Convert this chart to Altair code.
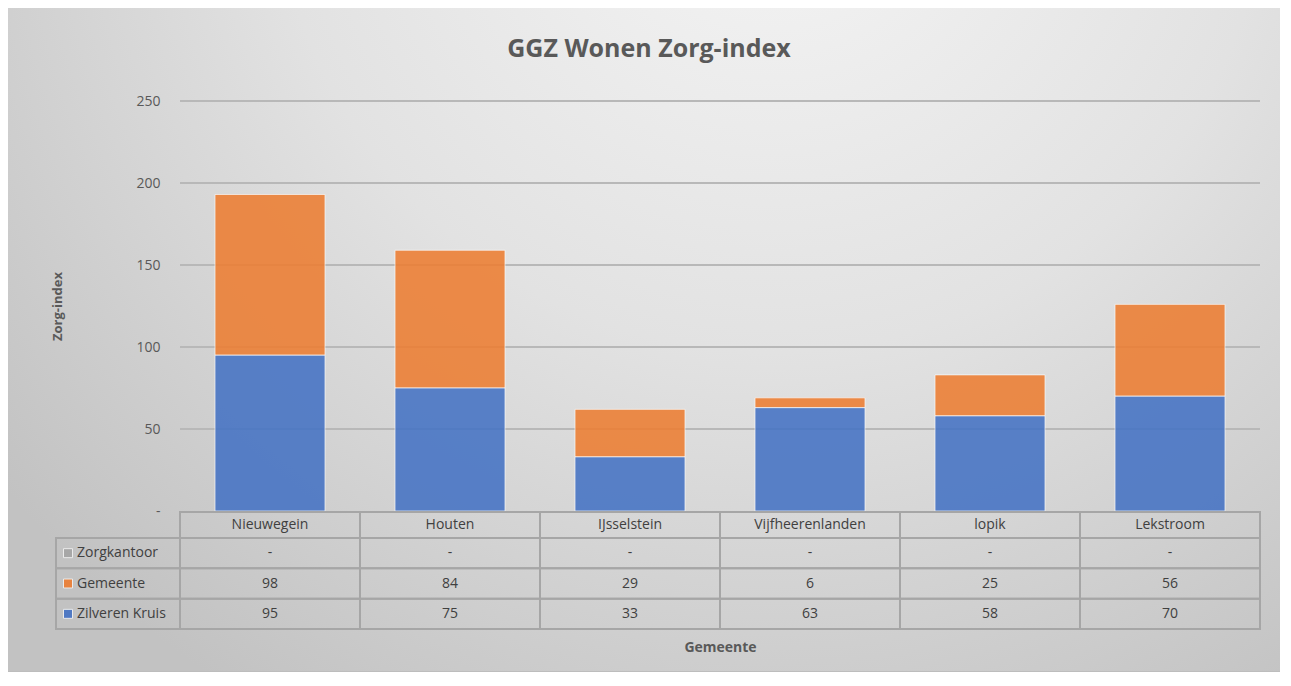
import altair as alt
import pandas as pd

# ---- data ----
gemeenten = ["Nieuwegein", "Houten", "IJsselstein", "Vijfheerenlanden", "lopik", "Lekstroom"]
zorgkantoor = [0, 0, 0, 0, 0, 0]
gemeente = [98, 84, 29, 6, 25, 56]
zilveren_kruis = [95, 75, 33, 63, 58, 70]
series = ["Zorgkantoor", "Gemeente", "Zilveren Kruis"]
series_colors = ["#A5A5A5", "#ED7D31", "#4472C4"]
stack_order = [2, 1, 0]
y_ticks = [0, 50, 100, 150, 200, 250]
chart_title = "GGZ Wonen Zorg-index"

rows = []
for s, o, vals in zip(series, stack_order, [zorgkantoor, gemeente, zilveren_kruis]):
    for g, v in zip(gemeenten, vals):
        rows.append({"Gemeente": g, "Reeks": s, "Waarde": v, "volgorde": o})
df = pd.DataFrame(rows)

FONT = "Open Sans"
TXT = "#404040"
LAB = "#595959"
BORDER = "#a6a6a6"

x_scale = alt.Scale(domain=gemeenten, paddingInner=0, paddingOuter=0)
y_scale = alt.Scale(domain=[0, 250], nice=False)
color_scale = alt.Scale(domain=series, range=series_colors)
row_scale = alt.Scale(type="band", domain=series, range=[437, 528], paddingInner=0, paddingOuter=0)

x_axis = alt.Axis(title="Gemeente", labelFont=FONT, labelFontSize=14, labelColor=TXT,
                  labelAngle=0, domain=False, ticks=False, grid=False, labelPadding=6,
                  titleFont=FONT, titleFontSize=14, titleFontWeight="bold", titleColor=LAB,
                  titleY=136, titleBaseline="middle", zindex=2)
y_axis = alt.Axis(title="Zorg-index", values=y_ticks,
                  labelExpr="datum.value == 0 ? '-      ' : datum.label",
                  domain=False, ticks=False, grid=False, labelPadding=20,
                  labelFont=FONT, labelFontSize=14, labelColor=LAB,
                  titleFont=FONT, titleFontSize=13, titleFontWeight="bold", titleColor=LAB,
                  titleX=-123, titleY=205, titleAngle=270, titleAlign="center",
                  titleBaseline="middle", zindex=2)

one = pd.DataFrame({"titel": [chart_title]})

bg_fill = {
    "gradient": "radial",
    "x1": 0.6, "y1": 0.12, "r1": 0,
    "x2": 0.6, "y2": 0.12, "r2": 0.78,
    "stops": [
        {"offset": 0, "color": "#f6f6f6"},
        {"offset": 0.5, "color": "#e2e2e2"},
        {"offset": 1, "color": "#c2c2c2"},
    ],
}
bg = alt.Chart(one).mark_rect(fill=bg_fill, stroke="#bdbdbd", strokeWidth=2).encode(
    x=alt.value(-174), x2=alt.value(1102), y=alt.value(-95), y2=alt.value(571)
)

title_mark = alt.Chart(one).mark_text(
    font=FONT, fontSize=25, fontWeight="bold", color=LAB, align="center", baseline="alphabetic"
).encode(x=alt.value(469), y=alt.value(-44), text="titel:N")

grid = alt.Chart(pd.DataFrame({"Waarde": y_ticks[1:]})).mark_rule(
    color="#b8b8b8", strokeWidth=2
).encode(
    y=alt.Y("Waarde:Q", scale=y_scale, axis=y_axis),
    x=alt.value(0), x2=alt.value(1080),
)

bars = alt.Chart(df).transform_filter("datum.Reeks != 'Zorgkantoor'").mark_bar(
    size=110, opacity=0.87, stroke="#ffffff", strokeOpacity=0.7, strokeWidth=1
).encode(
    x=alt.X("Gemeente:N", scale=x_scale, sort=gemeenten, axis=x_axis),
    y=alt.Y("Waarde:Q", stack="zero", scale=y_scale, axis=y_axis),
    color=alt.Color("Reeks:N", scale=color_scale, legend=None),
    order=alt.Order("volgorde:Q"),
)

main = alt.layer(bg, title_mark, grid, bars)

# ---- data table ----
header_cells = alt.Chart(pd.DataFrame({"Gemeente": gemeenten})).mark_rect(
    fillOpacity=0, stroke=BORDER, strokeWidth=2
).encode(
    x=alt.X("Gemeente:N", scale=x_scale, sort=gemeenten, axis=x_axis),
    y=alt.value(411), y2=alt.value(437),
)

cells = alt.Chart(df).mark_rect(fillOpacity=0, stroke=BORDER, strokeWidth=2).encode(
    x=alt.X("Gemeente:N", scale=x_scale, sort=gemeenten, axis=x_axis),
    y=alt.Y("Reeks:N", scale=row_scale, axis=None),
)

cell_text = alt.Chart(df).transform_calculate(
    lbl="datum.Waarde == 0 ? '-' : format(datum.Waarde, 'd')"
).mark_text(font=FONT, fontSize=14, color=TXT).encode(
    x=alt.X("Gemeente:N", scale=x_scale, sort=gemeenten, axis=x_axis),
    y=alt.Y("Reeks:N", scale=row_scale, axis=None),
    text="lbl:N",
)

leg_df = pd.DataFrame({"Reeks": series})
left_cells = alt.Chart(leg_df).mark_rect(fillOpacity=0, stroke=BORDER, strokeWidth=2).encode(
    x=alt.value(-124), x2=alt.value(0),
    y=alt.Y("Reeks:N", scale=row_scale, axis=None),
)
squares = alt.Chart(leg_df).mark_square(size=81, opacity=0.9, stroke="#f0f0f0", strokeWidth=1).encode(
    x=alt.value(-112),
    y=alt.Y("Reeks:N", scale=row_scale, axis=None),
    color=alt.Color("Reeks:N", scale=color_scale, legend=None),
)
leg_text = alt.Chart(leg_df).mark_text(font=FONT, fontSize=14, color=TXT, align="left").encode(
    x=alt.value(-103),
    y=alt.Y("Reeks:N", scale=row_scale, axis=None),
    text="Reeks:N",
)

table = alt.layer(header_cells, cells, cell_text, left_cells, squares, leg_text)

chart = alt.layer(main, table).resolve_scale(y="independent").properties(
    width=1080,
    height=410,
    padding={"left": 172, "top": 93, "right": 20, "bottom": 161},
    autosize=alt.AutoSizeParams(type="none"),
    background="white",
).configure_view(strokeWidth=0)

chart.save("out.html", embed_options={"renderer": "svg", "actions": False})
